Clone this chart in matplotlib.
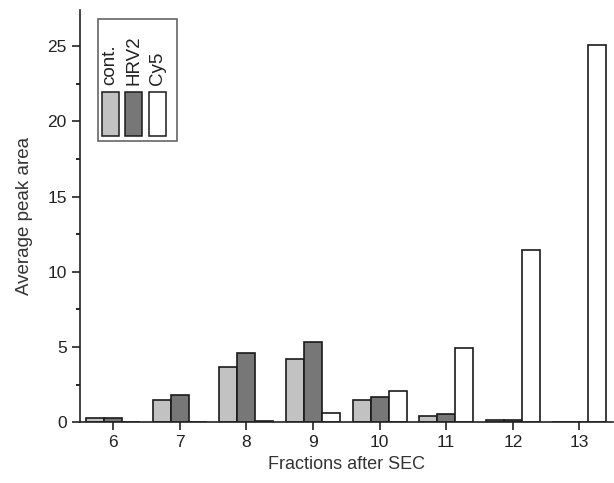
import matplotlib
matplotlib.use("Agg")
import matplotlib.pyplot as plt
import numpy as np
from matplotlib.patches import Rectangle
from matplotlib.ticker import MultipleLocator

plt.rcParams['font.family'] = ['Liberation Sans', 'DejaVu Sans']

fractions = [6, 7, 8, 9, 10, 11, 12, 13]
cont = [0.3, 1.45, 3.7, 4.2, 1.45, 0.4, 0.15, 0.0]
hrv2 = [0.25, 1.8, 4.6, 5.35, 1.7, 0.55, 0.15, 0.0]
cy5 = [0.0, 0.0, 0.1, 0.6, 2.1, 4.95, 11.45, 25.1]
names = ['cont.', 'HRV2', 'Cy5']
colors = ['#c2c2c2', '#777777', '#ffffff']

fig = plt.figure(figsize=(6.14, 4.83), dpi=100)
ax = fig.add_axes([0.130, 0.126, 0.868, 0.853])

x = np.array(fractions)
w = 0.27
for k, vals in enumerate([cont, hrv2, cy5]):
    ax.bar(x + (k - 1) * w, vals, width=w, color=colors[k], edgecolor='#1a1a1a', linewidth=1.2)

ax.set_xlim(5.5, 13.5)
ax.set_ylim(0, 27.4)
ax.set_xticks(fractions)
ax.yaxis.set_major_locator(MultipleLocator(5))
ax.yaxis.set_minor_locator(MultipleLocator(2.5))
ax.spines['top'].set_visible(False)
ax.spines['right'].set_visible(False)
for s in ['left', 'bottom']:
    ax.spines[s].set_linewidth(1.2)
    ax.spines[s].set_color('#222222')
ax.tick_params(which='major', direction='out', length=6, width=1.2, labelsize=12.5, colors='#222222')
ax.tick_params(which='minor', direction='out', length=3, width=1.2)
ax.set_xlabel('Fractions after SEC', fontsize=13, color='#333333', labelpad=4)
ax.set_ylabel('Average peak area', fontsize=13.5, color='#333333', labelpad=10)

# legend drawn by hand: vertical labels above the swatches
ax.add_patch(Rectangle((0.034, 0.682), 0.148, 0.296, transform=ax.transAxes,
                       facecolor='white', edgecolor='#666666', linewidth=1.2, zorder=5))
for k in range(3):
    x0 = 0.041 + k * 0.044
    ax.add_patch(Rectangle((x0, 0.694), 0.032, 0.107, transform=ax.transAxes,
                           facecolor=colors[k], edgecolor='#1a1a1a', linewidth=1.1, zorder=6))
    ax.text(x0 + 0.016, 0.818, names[k], transform=ax.transAxes, rotation=90,
            ha='center', va='bottom', fontsize=13.5, color='#222222', zorder=6)

fig.savefig('out.png', dpi=100)
